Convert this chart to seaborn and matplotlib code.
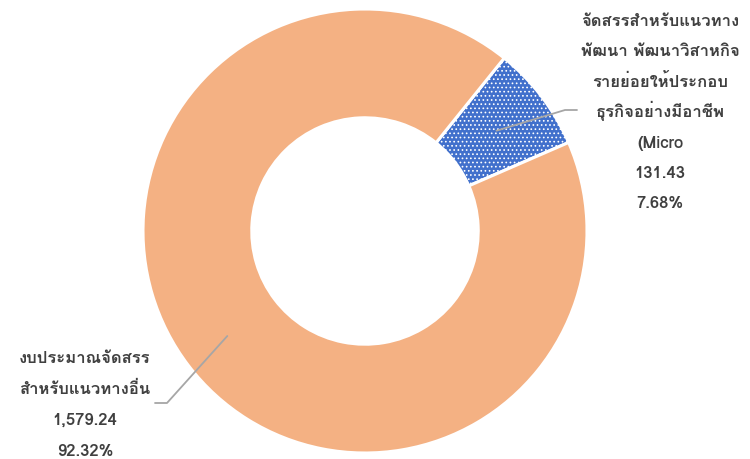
import numpy as np
import seaborn as sns
import matplotlib
matplotlib.use("Agg")
import matplotlib.pyplot as plt

# ข้อมูล (ล้านบาท)
labels = [["จัดสรรสำหรับแนวทาง", "พัฒนา พัฒนาวิสาหกิจ", "รายย่อยให้ประกอบ",
           "ธุรกิจอย่างมีอาชีพ", "(Micro"],
          ["งบประมาณจัดสรร", "สำหรับแนวทางอื่น"]]
values = [131.43, 1579.24]
value_text = ["131.43", "1,579.24"]
pct_text = ["7.68%", "92.32%"]
colors = ["#4170CC", "#F4B183"]

sns.set_theme(style="white")
plt.rcParams["font.family"] = ["Loma", "DejaVu Sans"]
plt.rcParams["hatch.linewidth"] = 0.7

W, H = 750, 459
fig = plt.figure(figsize=(W / 100, H / 100), dpi=100)
fig.patch.set_facecolor("white")

cx, cy, R = 365, 231, 222
ax = fig.add_axes([(cx - R) / W, (H - cy - R) / H, 2 * R / W, 2 * R / H])
wedges, _ = ax.pie(values, colors=colors, startangle=23.5, counterclock=True,
                   wedgeprops=dict(width=0.49, edgecolor="white", linewidth=2.2))
wedges[0].set_hatch("....")
ax.set_xlim(-1, 1)
ax.set_ylim(-1, 1)
ax.axis("off")


def px(x, y):
    # pixel (from top-left) -> data coords
    return (x - cx) / R, (cy - y) / R


text_kw = dict(color="#404040", fontsize=12, fontweight="bold",
               ha="center", va="baseline", clip_on=False)

# ป้ายกำกับ: วางทีละบรรทัด ระยะบรรทัดเท่ากัน
label_pos = [(660, 26, 30.4), (85, 363, 30.9)]
for i in range(len(values)):
    lines = labels[i] + [value_text[i], pct_text[i]]
    x0, y0, step = label_pos[i]
    for k, s in enumerate(lines):
        x, y = px(x0, y0 + k * step)
        ax.text(x, y, s, **text_kw)

# leader lines
ang = []
start = 23.5
for v in values:
    span = 360 * v / sum(values)
    ang.append(np.deg2rad(start + span / 2))
    start += span

r0 = 0.745
a0 = (r0 * np.cos(ang[0]), r0 * np.sin(ang[0]))
e1, e2 = px(565, 110), px(577, 110)
ax.plot([a0[0], e1[0], e2[0]], [a0[1], e1[1], e2[1]], color="#A6A6A6", lw=1.3, clip_on=False)

r1 = 0.78
a1 = (r1 * np.cos(ang[1]), r1 * np.sin(ang[1]))
e1, e2 = px(167, 403), px(155, 403)
ax.plot([a1[0], e1[0], e2[0]], [a1[1], e1[1], e2[1]], color="#A6A6A6", lw=1.3, clip_on=False)

fig.savefig("out.png", dpi=100, facecolor="white")
